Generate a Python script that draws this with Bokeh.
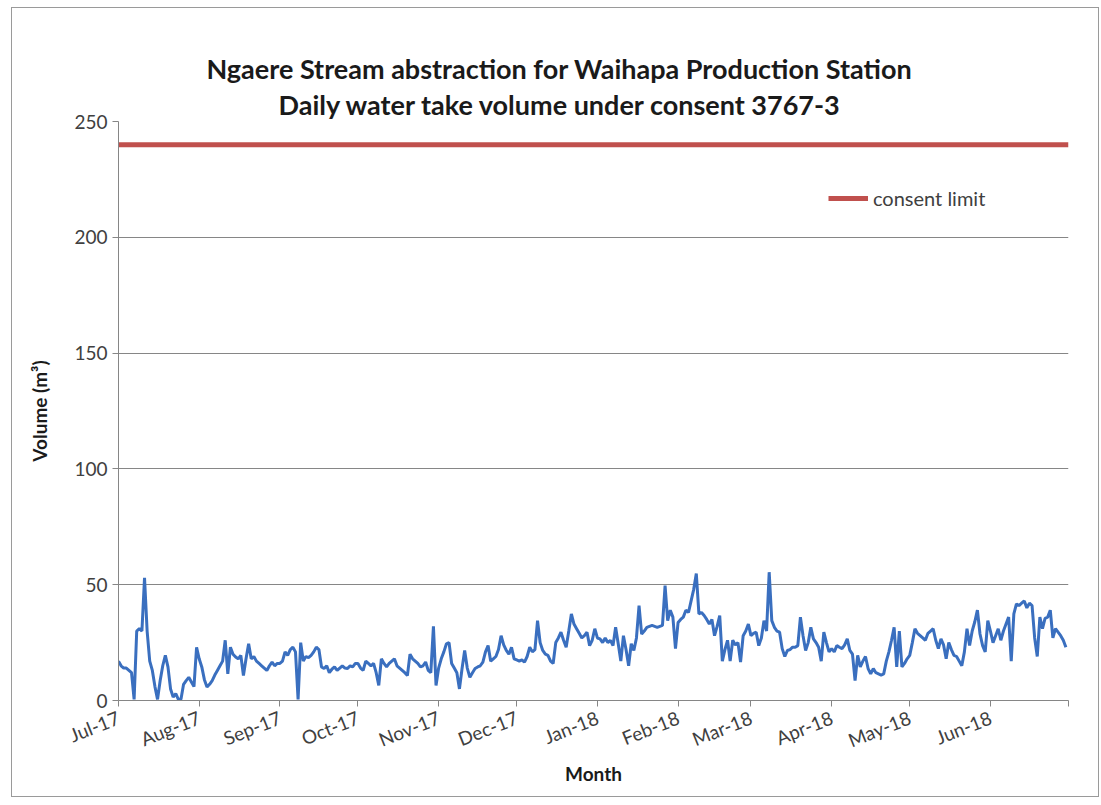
from bokeh.plotting import figure
from bokeh.models import (FixedTicker, Title, Legend, LegendItem, Range1d,
                          ColumnDataSource, LinearAxis)
from bokeh.embed import file_html
from bokeh.resources import INLINE

# ---------------- data ----------------
title_line1 = "Ngaere Stream abstraction for Waihapa Production Station"
title_line2 = "Daily water take volume under consent 3767-3"

month_labels = ["Jul-17", "Aug-17", "Sep-17", "Oct-17", "Nov-17", "Dec-17",
                "Jan-18", "Feb-18", "Mar-18", "Apr-18", "May-18", "Jun-18"]
month_lengths = [31, 31, 30, 31, 30, 31, 31, 28, 31, 30, 31, 30]

y_ticks = [0, 50, 100, 150, 200, 250]
consent_limit = 240

# daily water take volume (m3), one list per month
jul_17 = [17, 15, 14, 14, 13, 12, 0.5, 30, 31, 30, 53, 30, 17, 13, 6, 0.5,
          8.5, 15, 19.5, 14.5, 5, 1.5, 3, 0.5, 0.5, 7, 8.6, 10, 8, 6, 23]
aug_17 = [18, 14.5, 9, 5.8, 7, 8.6, 11, 13, 15, 17, 26, 11.5, 23, 20, 18.8, 18,
          19.5, 10.8, 18, 24.5, 18, 19, 17, 16, 15, 14, 13, 15, 16.6, 15, 16]
sep_17 = [16, 17, 21, 19.5, 22, 23, 21, 0.5, 25, 17, 19, 18.5, 19.5, 21, 23,
          22, 14.5, 13.8, 15, 12, 13.5, 14.5, 13, 14, 15, 14, 13.8, 15, 14.5, 16]
oct_17 = [16, 14, 13, 17, 16, 15, 16, 12, 6.5, 18, 16, 14.5, 16, 17, 18, 15,
          14, 13, 12, 10.8, 20, 18, 17, 16, 14.5, 15, 16.6, 13, 12, 32, 6.5]
nov_17 = [14, 18, 21, 24.5, 25, 16, 14, 12, 5, 13.8, 21.6, 14, 10, 12, 13.8,
          14.5, 15, 16.6, 21, 23.7, 17, 18, 19, 22, 28, 24, 21.6, 20, 23, 18]
dec_17 = [17.5, 17, 17.5, 16.6, 19, 23, 21, 22, 34.5, 25, 21.6, 20, 19.5, 17,
          16, 25, 27, 29.5, 26, 23, 30, 37.4, 33, 31, 29, 27, 28, 29.5, 23.7, 26, 31]
jan_18 = [27, 26.6, 25, 27, 25, 26, 23.7, 31.6, 24.5, 17, 28, 22, 15, 24.5,
          21.6, 27, 41, 28.7, 30, 31.6, 32, 32.4, 32, 31.6, 32, 32.4, 49.6, 34.5,
          39, 36, 22.4]
feb_18 = [33.7, 35, 36, 39, 38, 43, 48, 54.8, 37.4, 38, 36.7, 35, 33, 35, 28,
          32, 36.7, 17, 22, 26, 17, 26, 24, 25, 16.6, 28, 30, 33]
mar_18 = [28, 29, 29.5, 23.7, 27, 34.5, 30, 55.4, 34.5, 31.6, 30, 29.5, 22.4,
          19, 21.6, 22, 23, 23, 23.7, 36, 28, 21.6, 25, 31.6, 26.6, 25, 23, 17,
          29.5, 25, 21]
apr_18 = [22.4, 21, 23.7, 23, 22.4, 24, 26.6, 21.6, 20, 8.6, 19.5, 14.5, 17,
          19, 13.8, 11.5, 13.8, 12, 11.5, 11, 11.5, 17, 21, 26, 31.6, 14.5, 30,
          14.5, 16, 18]
may_18 = [19.5, 25, 31, 29, 28, 27, 26, 29, 30, 31, 26, 22.4, 26.6, 24, 18, 25,
          22, 19.5, 19, 17, 15, 21, 31, 23.7, 30, 34, 39, 28.7, 23.7, 21, 34.5]
jun_18 = [30, 25, 28, 31, 26, 30, 33, 36, 17, 37.4, 41.7, 41, 42, 43, 40, 42,
          41, 27, 19, 36, 31, 35.5, 36, 39, 27, 31, 29.5, 28, 26, 23]

# ---------------- build ----------------
months = [jul_17, aug_17, sep_17, oct_17, nov_17, dec_17,
          jan_18, feb_18, mar_18, apr_18, may_18, jun_18]

days, volumes = [], []
start = 0
month_starts = []
for length, vals in zip(month_lengths, months):
    month_starts.append(start)
    for i, v in enumerate(vals[:length]):
        days.append(start + i)
        volumes.append(v)
    start += length
total_days = start

src = ColumnDataSource(dict(day=days, volume=volumes))
limit_src = ColumnDataSource(dict(day=[0, total_days], volume=[consent_limit, consent_limit]))

FONT = "Lato"

p = figure(width=1088, height=790, output_backend="svg", toolbar_location=None,
           x_range=Range1d(0, total_days), y_range=Range1d(y_ticks[0], y_ticks[-1]),
           min_border_left=106, min_border_right=32, min_border_top=113,
           min_border_bottom=98,
           styles={"border": "1px solid #9a9a9a", "margin-left": "11px", "margin-top": "7px"})

# invisible spacer between the plot area and the two title lines
spacer = LinearAxis(ticker=FixedTicker(ticks=[]), axis_line_color=None,
                    major_tick_in=0, major_tick_out=25, major_label_standoff=0,
                    minor_tick_line_color=None, major_tick_line_color="white")
p.add_layout(spacer, "above")

t2 = Title(text=title_line2, align="left", offset=160, text_font=FONT, standoff=2,
           text_line_height=1.0, text_font_size="27px", text_font_style="bold",
           text_color="#1a1a1a")
p.add_layout(t2, "above")

p.title.text = title_line1
p.title.align = "left"
p.title.offset = 88
p.title.standoff = 0
p.title.text_line_height = 1.0
p.title.text_font = FONT
p.title.text_font_size = "27px"
p.title.text_font_style = "bold"
p.title.text_color = "#1a1a1a"

p.outline_line_color = None
p.background_fill_color = "white"
p.border_fill_color = "white"

r_vol = p.line("day", "volume", source=src, line_color="#3a6fbf", line_width=3)
r_lim = p.line("day", "volume", source=limit_src, line_color="#c0504d", line_width=5)

legend = Legend(items=[LegendItem(label="consent limit", renderers=[r_lim])],
                location=(710, 490), border_line_color=None, background_fill_alpha=0,
                padding=0, margin=0, glyph_width=40, glyph_height=20, label_standoff=5,
                label_text_font=FONT, label_text_font_size="20px", label_text_color="#404040")
p.add_layout(legend)

# axes
xax = p.below[0]
yax = p.left[0]
xax.ticker = FixedTicker(ticks=month_starts + [total_days])
xax.major_label_overrides = {**{s: lab for s, lab in zip(month_starts, month_labels)},
                             total_days: ""}
xax.major_label_orientation = 0.38
yax.ticker = FixedTicker(ticks=y_ticks)

for ax in (xax, yax):
    ax.axis_line_color = "#868686"
    ax.major_tick_line_color = "#868686"
    ax.major_tick_in = 0
    ax.major_tick_out = 6
    ax.minor_tick_line_color = None
    ax.major_label_text_font = FONT
    ax.major_label_text_font_size = "19px"
    ax.major_label_text_color = "#404040"
    ax.axis_label_text_font = FONT
    ax.axis_label_text_font_size = "19px"
    ax.axis_label_text_font_style = "bold"
    ax.axis_label_text_color = "#1a1a1a"

xax.axis_label = "Month"
yax.axis_label = "Volume (m³)"
yax.axis_label_standoff = 20
xax.major_label_standoff = 10
xax.axis_label_standoff = -3

p.xgrid.visible = False
p.ygrid.grid_line_color = "#868686"
p.ygrid.grid_line_width = 1

open("out.html", "w").write(file_html(p, INLINE))
